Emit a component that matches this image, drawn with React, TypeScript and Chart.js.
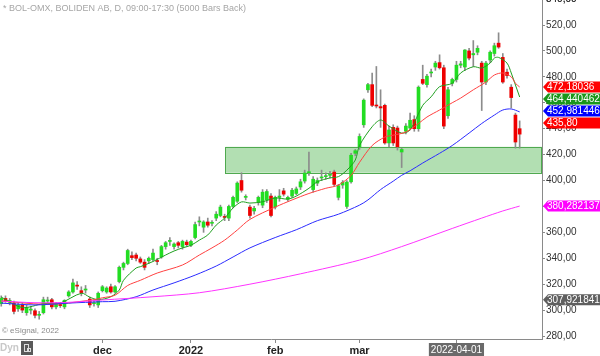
import React, { useEffect, useRef } from 'react';
import { Chart, registerables } from 'chart.js';

Chart.register(...registerables);

const FONT = "Arial, 'Liberation Sans', sans-serif";

// Daily candles (index 0 = 2021-10-28 ... index 123 = 2022-04-26)
const opens = [
  305, 309, 306, 305.5, 301, 304, 298, 300, 299.5, 296, 298, 307, 308, 302.5, 304, 302.5, 311, 314, 319, 315,
  315.5, 308.5, 305, 304, 315, 314, 318, 314, 322, 333, 336, 342, 342.5, 339.5, 337, 338, 339, 338, 341, 349,
  353, 349, 352, 349, 352.5, 350, 356, 368, 364, 368, 367, 371, 373, 372, 371, 380, 384, 400, 387, 379.5,
  376.5, 383, 381, 385, 388, 379.5, 387, 392, 385.5, 388, 390, 395, 399.6, 406, 393, 398, 402, 403, 404, 406.5,
  387, 396.5, 380, 399, 421, 426, 443, 470, 474, 458, 457, 458, 429, 441, 440.5, 422, 438, 440.5, 447, 440,
  478, 474, 483, 487.6, 491, 487, 450, 475, 478, 489, 487.6, 500, 497, 499, 490.6, 476, 493, 498, 506, 495,
  483.6, 472, 450.5, 440,
];
const highs = [
  311, 311, 309, 307, 306, 306, 304, 303, 301, 299, 310, 310, 309, 306, 306, 308, 315, 324, 322, 318,
  319, 310, 308, 314, 319, 318, 320, 319, 334, 337, 347, 345, 344, 341, 339, 341, 347, 340, 350, 353,
  356, 352, 353, 354, 354, 354, 368, 372, 369, 371, 369, 376, 381, 374, 381, 388, 399, 406, 389, 381,
  380, 388, 393, 393, 390, 388, 393, 394, 388, 394, 395, 401, 408, 422, 403, 402, 408, 406, 407, 408,
  397, 400, 400, 421, 424, 436, 463, 475, 483, 488, 470, 459, 442, 443, 442, 425, 444, 452, 450, 473,
  489, 482, 486, 492, 497, 489, 472, 479, 492, 492, 501, 502, 508, 504, 492, 492, 500, 506, 514, 498,
  486, 474, 452, 446,
];
const lows = [
  303, 306, 304, 297, 299, 298, 296, 297, 294, 293, 297, 305, 301, 301, 302, 301, 310, 313, 316, 311,
  313, 302, 303, 302, 314, 313, 313, 313, 321, 331, 335, 339, 338, 336, 331, 336, 338, 335, 340, 347,
  350, 347, 348, 347, 349, 349, 355, 365, 360, 364, 365, 369, 372, 369, 369, 379, 383, 391, 385, 371,
  374, 381, 379, 383, 372, 378, 384, 388, 384, 387, 389, 393, 398, 404, 391, 396, 400, 401, 402, 396,
  385, 394, 378.5, 398, 419, 424, 441, 468, 457, 456, 441, 428, 426, 427, 423.5, 410, 436, 439, 438, 438,
  474, 472, 480, 485, 486, 440, 448, 473, 476, 487, 485, 493, 488, 497, 454, 474, 491, 496, 502, 475,
  479, 456, 425, 425,
];
const closes = [
  309, 307, 307.5, 299, 304, 300, 302, 300.5, 296, 296.5, 308, 307.5, 302.5, 305, 303.5, 307.5, 314, 321, 318.5, 313.5,
  316, 304, 305.5, 313, 318, 317, 314, 318, 333, 336, 346, 340.5, 340, 337, 333, 340, 344, 337.5, 349, 352,
  353.5, 351, 350, 353, 350.5, 353, 366, 368.5, 368, 365.5, 367.5, 374, 379.5, 371.5, 380, 387, 398, 392.5, 387.5, 373,
  378.5, 387, 391, 391.5, 373, 387, 388, 389.5, 387, 392.5, 393.5, 399, 405.8, 406.5, 401, 400, 402.5, 403.5, 404, 397,
  396, 398.5, 398.8, 419.5, 423, 434, 462, 474, 458, 457.5, 456, 429, 439, 429, 426, 424, 442, 446.5, 440, 472,
  475, 480.5, 483.5, 490.6, 487, 442, 470, 478, 489, 490, 500.7, 494.5, 498, 502, 476, 490.6, 499, 504, 503, 476,
  481, 464, 429.7, 435.8,
];

// Moving averages: [bar index, value]
const greenMa = [
  [0, 310], [5, 302], [10, 305], [14, 305.5], [19, 313], [21, 310], [23, 308], [26, 310.3], [28, 315.5], [29, 323],
  [32, 332.5], [33, 333.5], [36, 337.5], [39, 342.5], [41, 345.6], [43, 348], [45, 350], [47, 354], [49, 358], [51, 365.6],
  [53, 371], [55, 378.8], [57, 383.5], [59, 382.6], [62, 383.6], [65, 386.5], [68, 385.7], [70, 388], [73, 394], [75, 399],
  [78, 402], [80, 403], [82, 408], [84, 415.8], [85, 427], [88, 441.5], [90, 446.7], [92, 442], [95, 436.6], [97, 439],
  [100, 458], [102, 464.6], [104, 472.4], [107, 475], [109, 483], [112, 487.8], [114, 486.8], [116, 490.6], [117, 494.5],
  [118, 495], [120, 490.6], [121, 483], [122, 473.7], [123, 464.44],
];
const redMa = [
  [0, 307], [10, 304.5], [16, 305.5], [19, 306.8], [22, 308], [24, 309.5], [27, 311.5], [30, 319], [33, 323], [37, 328.6],
  [43, 334.8], [47, 342.5], [50, 348], [53, 354], [56, 361.8], [59, 370], [65, 379.5], [69, 385], [73, 390], [77, 394],
  [80, 396.5], [83, 404], [85, 414], [88, 427], [91, 433.5], [93, 435], [96, 437.4], [99, 444], [101, 449], [104, 454.4],
  [107, 460], [109, 463.6], [112, 470], [115, 476], [117, 481.4], [119, 483], [121, 480], [122, 475], [123, 472.18],
];
const blueMa = [
  [0, 305.4], [8, 304], [16, 305.4], [24, 306.5], [27, 306.8], [32, 310.3], [36, 315.5], [41, 321], [46, 327], [51, 334],
  [55, 341], [59, 348], [65, 356], [70, 362], [75, 369], [80, 374], [85, 381], [87, 385], [90, 393], [93, 399.5],
  [95, 404], [97, 407.5], [100, 413.5], [104, 421], [107, 427], [111, 436.6], [114, 444], [117, 450.5], [119, 454.4],
  [121, 455.2], [123, 452.98],
];
const magentaMa = [
  [0, 307], [8, 305.7], [16, 306], [24, 307.8], [36, 310.3], [47, 313.4], [59, 320], [71, 328], [85, 338.6], [95, 349],
  [107, 363], [114, 371], [119, 376.5], [123, 380.28],
];

const xTickIdx = [24, 45, 65, 85, 108];
const xTickLabels = ['dec', '2022', 'feb', 'mar', '2022-04-01'];
const yTickValues = [280, 300, 320, 340, 360, 380, 400, 420, 440, 460, 480, 500, 520, 540];

const zoneLow = 406;
const zoneHigh = 426;
const zoneStartIdx = 53.2;

const lastValues = [
  { value: 472.18036, text: '472,18036', color: '#ff0000' },
  { value: 464.440462, text: '464,440462', color: '#1a961a' },
  { value: 452.981446, text: '452,981446', color: '#0000ff' },
  { value: 435.8, text: '435,80', color: '#ff0000' },
  { value: 380.282137, text: '380,282137', color: '#ff00ff' },
  { value: 307.921841, text: '307,921841', color: '#5f5f5f' },
];

const UP = '#22dd22';
const DOWN = '#ee0000';

const overlayPlugin = {
  id: 'overlay',
  beforeDatasetsDraw(chart: any) {
    const { ctx, chartArea, scales } = chart;
    const x = scales.x;
    const y = scales.y;
    const x0 = x.getPixelForValue(zoneStartIdx);
    const yt = y.getPixelForValue(zoneHigh);
    const yb = y.getPixelForValue(zoneLow);
    ctx.save();
    ctx.fillStyle = 'rgba(101,191,101,0.5)';
    ctx.fillRect(x0, yt, chartArea.right - x0, yb - yt);
    ctx.strokeStyle = '#4fa94f';
    ctx.lineWidth = 1;
    ctx.strokeRect(Math.round(x0) + 0.5, Math.round(yt) + 0.5, chartArea.right - Math.round(x0) - 1, Math.round(yb - yt));
    ctx.restore();
  },
  afterDraw(chart: any) {
    const { ctx, chartArea, scales } = chart;
    const y = scales.y;
    ctx.save();
    // header / footer texts
    ctx.textBaseline = 'middle';
    ctx.textAlign = 'left';
    ctx.font = `9px ${FONT}`;
    ctx.fillStyle = '#a6a6a6';
    ctx.fillText('* BOL-OMX, BOLIDEN AB, D, 09:00-17:30 (5000 Bars Back)', 3, 9);
    ctx.font = `8px ${FONT}`;
    ctx.fillStyle = '#8a8a8a';
    ctx.fillText('\u00A9 eSignal, 2022', 2, 331);
    ctx.font = `bold 10px ${FONT}`;
    ctx.fillStyle = '#c8c8c8';
    ctx.fillText('Dyn', 0, 348);
    ctx.fillStyle = '#5a5a5a';
    ctx.fillRect(21, 341, 12, 14);
    ctx.strokeStyle = '#dddddd';
    ctx.lineWidth = 1;
    ctx.strokeRect(24.5, 344.5, 4, 7);
    ctx.strokeRect(27.5, 348.5, 3, 3);

    // 540 label, cut by the top edge as in the reference
    ctx.font = `10px ${FONT}`;
    ctx.fillStyle = '#333333';
    ctx.fillText('540,00', chartArea.right + 4, y.getPixelForValue(540));

    // last-value boxes on the price axis
    const sorted = [...lastValues].sort((a, b) => b.value - a.value);
    let prev = -100;
    const right = chart.width;
    const left = chartArea.right;
    for (const lv of sorted) {
      let yc = y.getPixelForValue(lv.value);
      if (yc - prev < 24) yc = prev + 12;
      prev = yc;
      ctx.fillStyle = lv.color;
      ctx.beginPath();
      ctx.moveTo(left + 1, yc);
      ctx.lineTo(left + 6, yc - 5.5);
      ctx.lineTo(right, yc - 5.5);
      ctx.lineTo(right, yc + 5.5);
      ctx.lineTo(left + 6, yc + 5.5);
      ctx.closePath();
      ctx.fill();
      ctx.fillStyle = '#ffffff';
      ctx.fillText(lv.text, left + 5, yc + 0.5);
    }
    ctx.restore();
  },
};

export default function App() {
  const canvasRef = useRef<HTMLCanvasElement | null>(null);

  useEffect(() => {
    if (!canvasRef.current) return;
    Chart.defaults.font.family = FONT;

    const toXY = (arr: number[][]) => arr.map(([i, v]) => ({ x: i, y: v }));
    const bodyData = opens.map((o, i) => ({ x: i, y: [o, closes[i]] }));
    const wickData = highs.map((h, i) => ({ x: i, y: [lows[i], h] }));
    const bodyColors = opens.map((o, i) => (closes[i] >= o ? UP : DOWN));

    const lineDs = (data: number[][], color: string) => ({
      type: 'line' as const,
      data: toXY(data),
      borderColor: color,
      borderWidth: 1,
      pointRadius: 0,
      tension: 0.3,
      fill: false,
      order: 0,
    });

    const chart = new Chart(canvasRef.current, {
      type: 'bar',
      data: {
        datasets: [
          lineDs(magentaMa, '#ff33ff') as any,
          lineDs(blueMa, '#2b2bff') as any,
          lineDs(redMa, '#ff4040') as any,
          lineDs(greenMa, '#1f9f1f') as any,
          {
            type: 'bar',
            data: bodyData as any,
            backgroundColor: bodyColors,
            barThickness: 3,
            minBarLength: 1,
            grouped: false,
            order: 1,
          },
          {
            type: 'bar',
            data: wickData as any,
            backgroundColor: '#8c8c8c',
            barThickness: 1,
            grouped: false,
            order: 2,
          },
        ],
      },
      options: {
        animation: false,
        responsive: false,
        maintainAspectRatio: false,
        layout: { padding: 0 },
        plugins: { legend: { display: false }, tooltip: { enabled: false } },
        scales: {
          x: {
            type: 'linear',
            min: -0.3,
            max: 128.3,
            offset: false,
            afterBuildTicks: (s: any) => {
              s.ticks = xTickIdx.map((v) => ({ value: v }));
            },
            afterFit: (s: any) => {
              s.height = 17;
              s.paddingLeft = 0;
              s.paddingRight = 0;
            },
            ticks: {
              autoSkip: false,
              maxRotation: 0,
              padding: 1,
              callback: (v: any) => {
                const k = xTickIdx.indexOf(Number(v));
                return k >= 0 ? xTickLabels[k] : '';
              },
              font: (c: any) =>
                c.tick && c.tick.value === 108
                  ? { family: FONT, size: 10, weight: 'normal' }
                  : { family: FONT, size: 11, weight: 'bold' },
              color: (c: any) => (c.tick && c.tick.value === 108 ? '#ffffff' : '#222222'),
              showLabelBackdrop: (c: any) => !!(c.tick && c.tick.value === 108),
              backdropColor: '#6a6a6a',
              backdropPadding: { top: 1, bottom: 1, left: 2, right: 2 },
            } as any,
            grid: { drawOnChartArea: false, drawTicks: true, tickLength: 4, color: '#8a8a8a', offset: false },
            border: { display: true, color: '#8a8a8a' },
          },
          y: {
            type: 'linear',
            position: 'right',
            min: 277.7,
            max: 539.3,
            afterBuildTicks: (s: any) => {
              s.ticks = yTickValues.map((v) => ({ value: v }));
            },
            afterFit: (s: any) => {
              s.width = 58;
              s.paddingTop = 0;
              s.paddingBottom = 0;
            },
            ticks: {
              padding: 1,
              color: '#333333',
              font: { family: FONT, size: 10 },
              callback: (v: any) => Number(v).toFixed(2).replace('.', ','),
            },
            grid: { drawOnChartArea: false, drawTicks: true, tickLength: 3, color: '#8a8a8a' },
            border: { display: true, color: '#8a8a8a' },
          },
        },
      } as any,
      plugins: [overlayPlugin],
    });

    return () => chart.destroy();
  }, []);

  return (
    <div style={{ position: 'fixed', left: 0, top: 0, width: 600, height: 356, background: '#ffffff' }}>
      <canvas ref={canvasRef} width={600} height={356} style={{ display: 'block', width: 600, height: 356 }} />
    </div>
  );
}
